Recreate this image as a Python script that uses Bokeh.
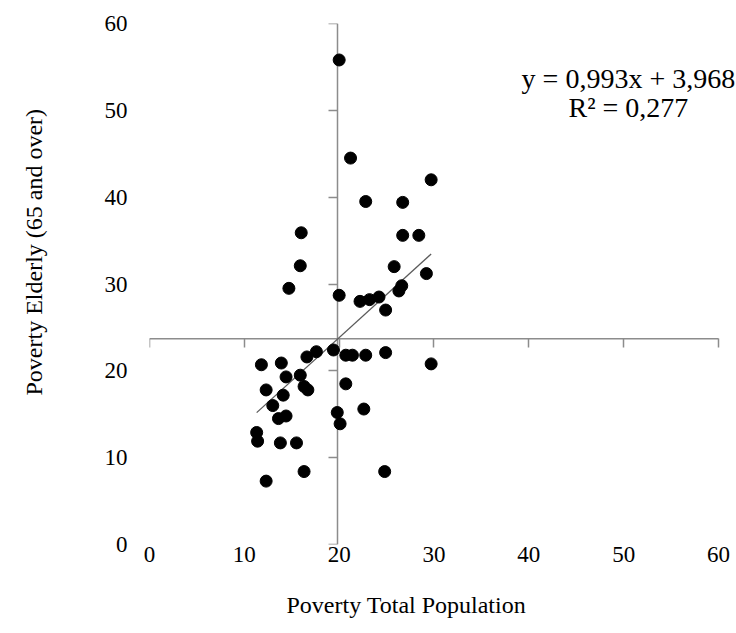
import numpy as np
from bokeh.plotting import figure
from bokeh.models import Range1d, LinearAxis, FixedTicker, Label, Title
from bokeh.embed import file_html
from bokeh.resources import INLINE

# ---- data ----
poverty_total = [20.0, 21.2, 29.7, 22.8, 26.7,
                 16.0, 26.7, 28.4, 15.9, 25.8, 29.2, 14.7, 26.6, 26.3, 20.0,
                 22.2, 23.2, 24.2, 24.9,
                 11.8, 13.9, 16.6, 17.6, 19.4, 20.7, 21.4, 22.8, 24.9, 29.7,
                 14.4, 15.9, 12.3, 14.1, 16.3, 16.7, 20.7, 13.0, 13.6, 14.4,
                 19.8, 22.6, 20.1,
                 11.3, 11.4, 13.8, 15.5, 16.3, 24.8, 12.3]
poverty_elderly = [55.8, 44.5, 42.0, 39.5, 39.4,
                   35.9, 35.6, 35.6, 32.1, 32.0, 31.2, 29.5, 29.8, 29.2, 28.7,
                   28.0, 28.2, 28.5, 27.0,
                   20.7, 20.9, 21.6, 22.2, 22.4, 21.8, 21.8, 21.8, 22.1, 20.8,
                   19.3, 19.5, 17.8, 17.2, 18.2, 17.8, 18.5, 16.0, 14.5, 14.8,
                   15.2, 15.6, 13.9,
                   12.9, 11.9, 11.7, 11.7, 8.4, 8.4, 7.3]
slope = 0.993
intercept = 3.968
equation_text = "y = 0,993x + 3,968"
r2_text = "R² = 0,277"
ticks = [0, 10, 20, 30, 40, 50, 60]
x_title = "Poverty Total Population"
y_title = "Poverty Elderly (65 and over)"

# ---- layout / style constants ----
x_cross = 19.8
y_cross = 23.7
FONT = "Liberation Serif"
AXIS_GRAY = "#8c8c8c"

# x view extends a little past 60 so the equation text can run to the window edge
p = figure(width=736, height=633,
           x_range=Range1d(0, 61.9), y_range=Range1d(0, 60),
           output_backend="svg", toolbar_location=None,
           min_border_left=149, min_border_right=0,
           min_border_top=23, min_border_bottom=89)
p.outline_line_color = None
p.xgrid.grid_line_color = None
p.ygrid.grid_line_color = None
p.background_fill_color = "white"
p.border_fill_color = "white"

# label-only axes at the edges
for ax in (p.xaxis[0], p.yaxis[0]):
    ax.ticker = FixedTicker(ticks=ticks)
    ax.axis_line_color = None
    ax.major_tick_line_color = None
    ax.minor_tick_line_color = None
    ax.major_tick_out = 0
    ax.major_tick_in = 0
    ax.major_label_text_font = FONT
    ax.major_label_text_font_size = "23px"
    ax.major_label_text_color = "black"
p.xaxis[0].major_label_standoff = 2
p.yaxis[0].major_label_standoff = 22

# invisible spacer axes (hidden tick, empty label) to push the titles outward
def spacer(extent):
    return LinearAxis(ticker=FixedTicker(ticks=[ticks[0]]),
                      major_label_overrides={ticks[0]: ""},
                      major_label_standoff=0, major_label_text_font_size="1px",
                      axis_line_color=None,
                      major_tick_line_color=None, minor_tick_line_color=None,
                      major_tick_out=extent, major_tick_in=0,
                      minor_tick_out=0, minor_tick_in=0)
p.add_layout(spacer(15), "below")
p.add_layout(spacer(40), "left")

# crossing axes with ticks (no labels)
xa = LinearAxis(fixed_location=y_cross, ticker=FixedTicker(ticks=ticks),
                major_label_overrides={t: "" for t in ticks})
ya = LinearAxis(fixed_location=x_cross, ticker=FixedTicker(ticks=ticks),
                major_label_overrides={t: "" for t in ticks})
for ax in (xa, ya):
    ax.level = "underlay"
    ax.axis_line_color = AXIS_GRAY
    ax.axis_line_width = 1.5
    ax.major_tick_line_color = AXIS_GRAY
    ax.major_tick_line_width = 1.5
    ax.major_tick_out = 9
    ax.major_tick_in = 0
    ax.minor_tick_line_color = None
    ax.major_label_text_font_size = "1px"
xa.axis_line_color = None  # horizontal line drawn from first to last tick below
p.add_layout(xa, "below")
p.add_layout(ya, "left")
p.segment(x0=[ticks[0]], y0=[y_cross], x1=[ticks[-1]], y1=[y_cross],
          line_color=AXIS_GRAY, line_width=1.5, level="underlay")

# axis titles
p.add_layout(Title(text=x_title, align="left", offset=137, standoff=20,
                   text_font=FONT, text_font_size="24px",
                   text_font_style="normal", text_color="black"), "below")
p.add_layout(Title(text=y_title, align="left", offset=149, standoff=30,
                   text_font=FONT, text_font_size="24px",
                   text_font_style="normal", text_color="black"), "left")

# trend line
xs = np.array([min(poverty_total), max(poverty_total)])
p.line(xs, slope * xs + intercept, line_color="#5a5a5a", line_width=1.3)

# points
p.scatter(poverty_total, poverty_elderly, size=12, fill_color="black",
          line_color="black")

# equation
p.add_layout(Label(x=50.5, y=53.7, text=equation_text, text_align="center",
                   text_baseline="alphabetic", text_font=FONT,
                   text_font_size="28px", text_color="black"))
p.add_layout(Label(x=50.5, y=50.3, text=r2_text, text_align="center",
                   text_baseline="alphabetic", text_font=FONT,
                   text_font_size="28px", text_color="black"))

open("out.html", "w").write(file_html(p, INLINE))
